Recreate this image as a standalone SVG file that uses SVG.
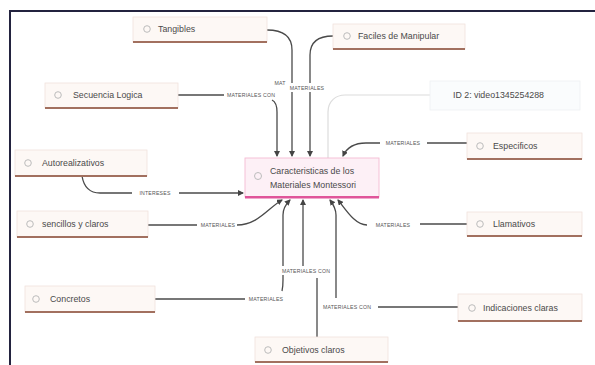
<svg xmlns="http://www.w3.org/2000/svg" width="595" height="365" viewBox="0 0 595 365">
<defs>
<marker id="arr" markerWidth="6" markerHeight="6" refX="5" refY="3" orient="auto" markerUnits="userSpaceOnUse">
<path d="M0,0 L6,3 L0,6 Z" fill="#444"/>
</marker>
<style>
.bg{fill:#ffffff}
.frame{stroke:#23233f;stroke-width:2;fill:none}
.edge{fill:none;stroke:#4a4a4a;stroke-width:1.3}
.faint{fill:none;stroke:#dcdcdc;stroke-width:1.2}
.lbg{fill:#ffffff}
.lbl{font-family:"Liberation Sans",Arial,sans-serif;font-size:5.2px;fill:#555;text-anchor:middle;letter-spacing:0.2px}
.box{fill:#fdf8f5;stroke:#f1e2dc;stroke-width:0.8}
.bar{fill:#a2705f}
.ico{fill:none;stroke:#bcbcbc;stroke-width:1}
.txt{font-family:"Liberation Sans",Arial,sans-serif;font-size:8.8px;fill:#4a4a4a}
.cbox{fill:#fdf0f6;stroke:#f4bad3;stroke-width:0.9}
.cbar{fill:#e0559a}
.idbox{fill:#fafcfd;stroke:#eef1f3;stroke-width:0.8}
</style>
</defs>
<rect class="bg" x="0" y="0" width="595" height="365"/>
<path class="frame" d="M10,365 V11 H595"/>

<g id="connectors">
<path class="faint" d="M430,95 H345 C336,95 328,101 328,112 V158"/>
<path class="edge" d="M267,30 C285,30 292,38 292,50 V156" marker-end="url(#arr)"/>
<path class="edge" d="M333,36 C318,36 310,42 310,55 V156" marker-end="url(#arr)"/>
<path class="edge" d="M178,95 H224"/>
<path class="edge" d="M272,100 C276,102 277,106 277,112 V156" marker-end="url(#arr)"/>
<path class="edge" d="M467,143 H427"/>
<path class="edge" d="M380,143 H366 C355,143 347,147 343,156" marker-end="url(#arr)"/>
<path class="edge" d="M82,176 C84,188 90,193 100,193 H132"/>
<path class="edge" d="M179,193 H243" marker-end="url(#arr)"/>
<path class="edge" d="M148,225 H197"/>
<path class="edge" d="M237,225 C258,225 268,208 282,200" marker-end="url(#arr)"/>
<path class="edge" d="M467,224 H420"/>
<path class="edge" d="M367,225 C355,225 346,210 338,200" marker-end="url(#arr)"/>
<path class="edge" d="M155,299 H245"/>
<path class="edge" d="M282,291 C283,287 283,284 283,280 V215 C283,208 286,204 290,200" marker-end="url(#arr)"/>
<path class="edge" d="M317,337 V278"/>
<path class="edge" d="M303,266 V200" marker-end="url(#arr)"/>
<path class="edge" d="M458,307 H378"/>
<path class="edge" d="M336,298 V215 C336,208 333,204 330,200" marker-end="url(#arr)"/>

<rect class="lbg" x="273" y="78" width="14" height="9"/>
<text class="lbl" x="280" y="84.5">MAT</text>
<rect class="lbg" x="288" y="83" width="38" height="9"/>
<text class="lbl" x="307" y="89.5">MATERIALES</text>
<rect class="lbg" x="226" y="90" width="50" height="9"/>
<text class="lbl" x="251" y="96.5">MATERIALES CON</text>
<rect class="lbg" x="382" y="138" width="42" height="9"/>
<text class="lbl" x="403" y="144.5">MATERIALES</text>
<rect class="lbg" x="135" y="188" width="41" height="9"/>
<text class="lbl" x="155" y="194.5">INTERESES</text>
<rect class="lbg" x="199" y="220" width="37" height="9"/>
<text class="lbl" x="218" y="226.5">MATERIALES</text>
<rect class="lbg" x="369" y="220" width="47" height="9"/>
<text class="lbl" x="393" y="226.5">MATERIALES</text>
<rect class="lbg" x="247" y="294" width="38" height="9"/>
<text class="lbl" x="266" y="300.5">MATERIALES</text>
<rect class="lbg" x="280" y="266" width="53" height="9"/>
<text class="lbl" x="306" y="272.5">MATERIALES CON</text>
<rect class="lbg" x="320" y="302" width="54" height="9"/>
<text class="lbl" x="347" y="308.5">MATERIALES CON</text>
</g>

<g id="n-tangibles">
<rect class="box" x="133" y="17" width="134" height="25"/>
<rect class="bar" x="133" y="41" width="134" height="2"/>
<circle class="ico" cx="147" cy="29" r="3.3"/>
<text class="txt" x="158" y="32">Tangibles</text>
</g>
<g id="n-faciles">
<rect class="box" x="333" y="24" width="132" height="25"/>
<rect class="bar" x="333" y="48" width="132" height="2"/>
<circle class="ico" cx="347" cy="36" r="3.3"/>
<text class="txt" x="358" y="39">Faciles de Manipular</text>
</g>
<g id="n-secuencia">
<rect class="box" x="45" y="83" width="133" height="25"/>
<rect class="bar" x="45" y="107" width="133" height="2"/>
<circle class="ico" cx="58" cy="95" r="3.3"/>
<text class="txt" x="73" y="98">Secuencia Logica</text>
</g>
<g id="n-video">
<rect class="idbox" x="430" y="81" width="150" height="29"/>
<text class="txt" x="453" y="98">ID 2: video1345254288</text>
</g>
<g id="n-autor">
<rect class="box" x="15" y="150" width="132" height="26"/>
<rect class="bar" x="15" y="175" width="132" height="2"/>
<circle class="ico" cx="28" cy="163" r="3.3"/>
<text class="txt" x="42" y="166">Autorealizativos</text>
</g>
<g id="n-central">
<rect class="cbox" x="245" y="158" width="134" height="39"/>
<rect class="cbar" x="245" y="196" width="134" height="2.5"/>
<circle class="ico" cx="258" cy="176" r="3.5"/>
<text class="txt" x="270" y="174">Caracteristicas de los</text>
<text class="txt" x="270" y="188">Materiales Montessori</text>
</g>
<g id="n-especificos">
<rect class="box" x="467" y="133" width="115" height="26"/>
<rect class="bar" x="467" y="158" width="115" height="2"/>
<circle class="ico" cx="480" cy="146" r="3.3"/>
<text class="txt" x="493" y="149">Especificos</text>
</g>
<g id="n-sencillos">
<rect class="box" x="17" y="211" width="131" height="26"/>
<rect class="bar" x="17" y="236" width="131" height="2"/>
<circle class="ico" cx="30" cy="224" r="3.3"/>
<text class="txt" x="42" y="227">sencillos y claros</text>
</g>
<g id="n-llamativos">
<rect class="box" x="467" y="212" width="115" height="24"/>
<rect class="bar" x="467" y="235" width="115" height="2"/>
<circle class="ico" cx="480" cy="224" r="3.3"/>
<text class="txt" x="493" y="227">Llamativos</text>
</g>
<g id="n-concretos">
<rect class="box" x="25" y="286" width="130" height="26"/>
<rect class="bar" x="25" y="311" width="130" height="2"/>
<circle class="ico" cx="36" cy="299" r="3.3"/>
<text class="txt" x="50" y="302">Concretos</text>
</g>
<g id="n-indicaciones">
<rect class="box" x="458" y="294" width="124" height="27"/>
<rect class="bar" x="458" y="320" width="124" height="2"/>
<circle class="ico" cx="472" cy="308" r="3.3"/>
<text class="txt" x="483" y="311">Indicaciones claras</text>
</g>
<g id="n-objetivos">
<rect class="box" x="255" y="337" width="133" height="25"/>
<rect class="bar" x="255" y="361" width="133" height="2"/>
<circle class="ico" cx="268" cy="350" r="3.3"/>
<text class="txt" x="282" y="353">Objetivos claros</text>
</g>
</svg>
